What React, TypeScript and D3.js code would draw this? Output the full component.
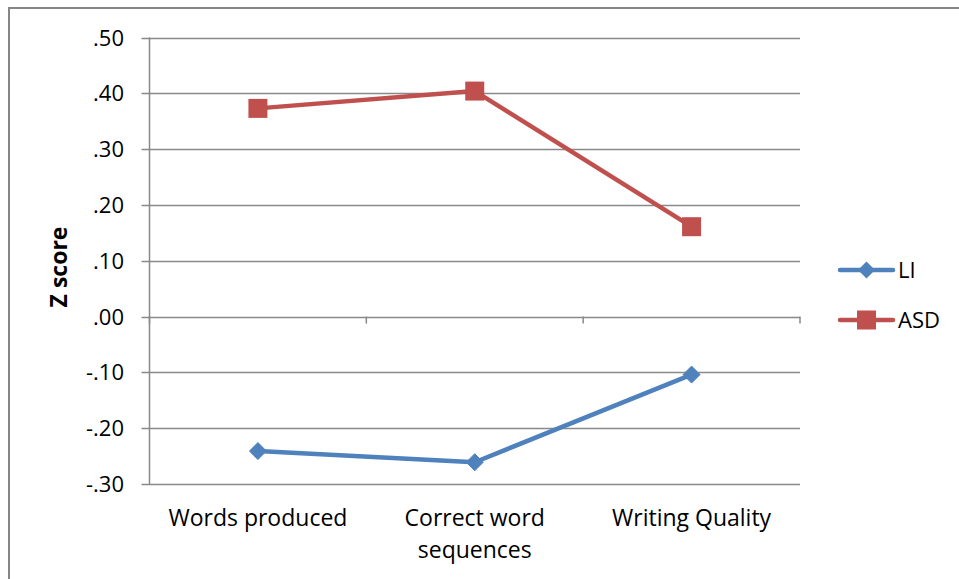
import React from "react";
import * as d3 from "d3";

const categories = ["Words produced", "Correct word sequences", "Writing Quality"];
const categoryLines = [["Words produced"], ["Correct word", "sequences"], ["Writing Quality"]];
const liValues = [-0.241, -0.261, -0.104];
const asdValues = [0.373, 0.404, 0.161];
const yTicks = [0.5, 0.4, 0.3, 0.2, 0.1, 0.0, -0.1, -0.2, -0.3];
const seriesNames = ["LI", "ASD"];

const W = 959;
const H = 579;
const FONT = "'Open Sans', 'Liberation Sans', sans-serif";
const FS = 23;

export default function App() {
  const left = 149.5, right = 800, top = 37.5, bottom = 484;
  const x = d3.scaleBand<string>().domain(categories).range([left, right]).padding(0);
  const y = d3.scaleLinear().domain([-0.3, 0.5]).range([bottom, top]);
  const cx = (c: string) => (x(c) as number) + x.bandwidth() / 2;
  const line = d3.line<number>().x((_, i) => cx(categories[i])).y((v) => y(v));
  const fmt = (v: number) => {
    const s = Math.abs(v).toFixed(2).replace(/^0/, "");
    return v < -1e-9 ? "-" + s : s;
  };
  const blue = "#4F81BD";
  const red = "#C0504D";
  const grid = "#898989";
  const diamond = (px: number, py: number, r: number) =>
    `M${px},${py - r}L${px + r},${py}L${px},${py + r}L${px - r},${py}Z`;
  const xTickPos = [left, ...categories.map((c) => (x(c) as number) + x.bandwidth())];

  return (
    <svg width={W} height={H} style={{ position: "absolute", left: 0, top: 0 }}>
      <rect x={0} y={0} width={W} height={H} fill="#fff" />
      <rect x={9} y={8} width={W + 10} height={H + 10} fill="none" stroke="#868686" strokeWidth={2} />
      {yTicks.map((t) => (
        <g key={t}>
          <line x1={left - 8} x2={right} y1={Math.round(y(t)) + 0.5} y2={Math.round(y(t)) + 0.5} stroke={grid} strokeWidth={1.5} />
          <text x={124} y={Math.round(y(t)) + 8} textAnchor="end" fontFamily={FONT} fontSize={FS - 1} fill="#000">
            {fmt(t)}
          </text>
        </g>
      ))}
      <line x1={left} x2={left} y1={top} y2={bottom} stroke={grid} strokeWidth={1.5} />
      {xTickPos.map((p, i) => (
        <line key={i} x1={p} x2={p} y1={y(0)} y2={y(0) + 7} stroke={grid} strokeWidth={1.5} />
      ))}
      {categoryLines.map((lines, i) => (
        <text key={i} textAnchor="middle" fontFamily={FONT} fontSize={FS} fill="#000">
          {lines.map((l, j) => (
            <tspan key={j} x={cx(categories[i])} y={526 + j * 32}>{l}</tspan>
          ))}
        </text>
      ))}
      <text transform="translate(67,267) rotate(-90)" textAnchor="middle" fontFamily={FONT} fontSize={23} fontWeight="bold" fill="#000">
        Z score
      </text>
      <path d={line(liValues) || ""} fill="none" stroke={blue} strokeWidth={4.5} strokeLinejoin="round" />
      <path d={line(asdValues) || ""} fill="none" stroke={red} strokeWidth={4.5} strokeLinejoin="round" />
      {liValues.map((v, i) => (
        <path key={i} d={diamond(cx(categories[i]), y(v), 8.5)} fill={blue} stroke={blue} strokeWidth={1} />
      ))}
      {asdValues.map((v, i) => (
        <rect key={i} x={cx(categories[i]) - 9.5} y={y(v) - 9.5} width={19} height={19} fill={red} />
      ))}
      {/* legend */}
      <g>
        <line x1={840} x2={893} y1={270} y2={270} stroke={blue} strokeWidth={4.5} strokeLinecap="round" />
        <path d={diamond(866.5, 270, 8.5)} fill={blue} />
        <text x={898} y={278} fontFamily={FONT} fontSize={FS - 1} fill="#000">{seriesNames[0]}</text>
        <line x1={840} x2={893} y1={320} y2={320} stroke={red} strokeWidth={4.5} strokeLinecap="round" />
        <rect x={857} y={310.5} width={19} height={19} fill={red} />
        <text x={898} y={328} fontFamily={FONT} fontSize={FS - 1} fill="#000">{seriesNames[1]}</text>
      </g>
    </svg>
  );
}
